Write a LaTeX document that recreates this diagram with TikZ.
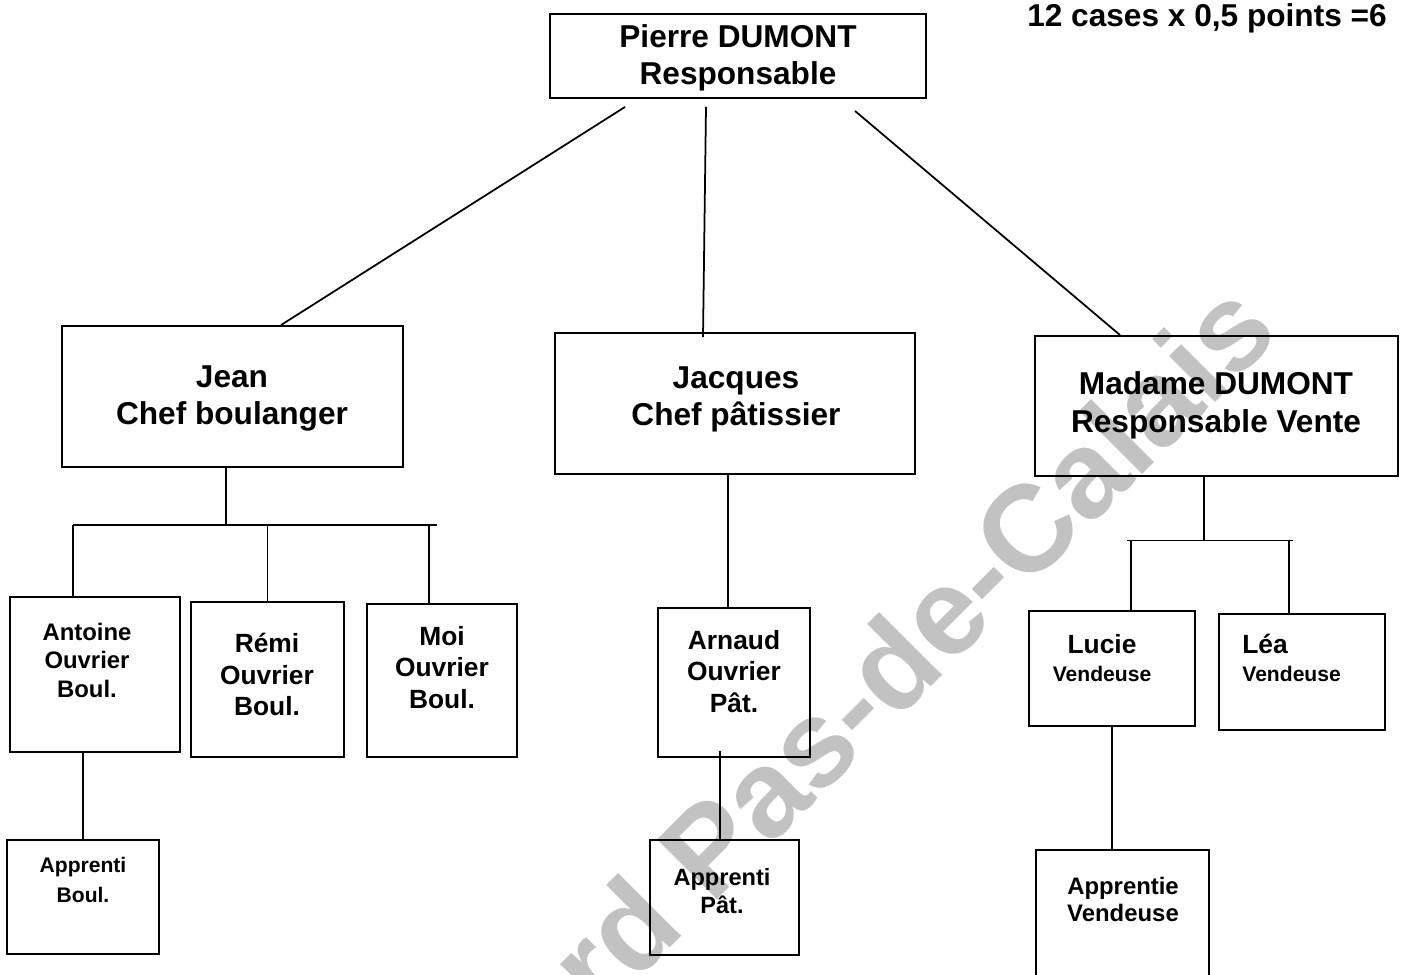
\documentclass[tikz,border=0pt]{standalone}
\usepackage{fontspec}
\setmainfont{Liberation Sans}
\usetikzlibrary{calc}

\tikzset{
  box/.style={draw, line width=1.1pt, inner sep=0pt},
  link/.style={line width=1pt},
  txt/.style={font=\bfseries, align=center, inner sep=0pt},
  bigtxt/.style={txt, font=\bfseries\fontsize{18}{21.3}\selectfont},
  midtxt/.style={txt, font=\bfseries\fontsize{15}{17.9}\selectfont},
}

\begin{document}
\begin{tikzpicture}[x=0.02cm, y=-0.02cm]
	\useasboundingbox (0,0) rectangle (1403,974);
	\clip (0,0) rectangle (1403,974);

	% filigrane
	\node[rotate=45, text=black!24, inner sep=0pt, font=\bfseries\fontsize{70}{70}\selectfont] (filigrane) at (910,645) {rd Pas-de-Calais};

	\node[bigtxt] (bareme) at (1207,18) {12 cases x 0,5 points =6};

	% boites
	\node[box, minimum width=7.52cm, minimum height=1.68cm] (pierre) at (738,56) {};
	\node[box, minimum width=6.82cm, minimum height=2.82cm] (jean) at (232.5,396.5) {};
	\node[box, minimum width=7.2cm, minimum height=2.82cm] (jacques) at (735,403.5) {};
	\node[box, minimum width=7.26cm, minimum height=2.8cm] (madame) at (1216.5,406) {};
	\node[box, minimum width=3.4cm, minimum height=3.1cm] (antoine) at (95,674.5) {};
	\node[box, minimum width=3.06cm, minimum height=3.1cm] (remi) at (267.5,679.5) {};
	\node[box, minimum width=3cm, minimum height=3.06cm] (moi) at (442,680.5) {};
	\node[box, minimum width=3.04cm, minimum height=2.98cm] (arnaud) at (734,682.5) {};
	\node[box, minimum width=3.32cm, minimum height=2.3cm] (lucie) at (1112,668.5) {};
	\node[box, minimum width=3.32cm, minimum height=2.32cm] (lea) at (1302,672) {};
	\node[box, minimum width=3.04cm, minimum height=2.28cm] (appboul) at (83,897) {};
	\node[box, minimum width=2.98cm, minimum height=2.3cm] (apppat) at (724.5,897.5) {};
	\node[box, minimum width=3.46cm, minimum height=3cm] (appvend) at (1122.5,925) {};

	% textes
	\node[bigtxt] (pierre-t) at (738,58) {Pierre DUMONT\\Responsable};
	\node[bigtxt] (jean-t) at (232,398.5) {Jean\\Chef boulanger};
	\node[bigtxt] (jacques-t) at (736,399.5) {Jacques\\Chef pâtissier};
	\node[bigtxt] (madame-t) at (1216,405.5) {Madame DUMONT\\Responsable Vente};
	\node[txt, font=\bfseries\fontsize{13.6}{16.2}\selectfont] (antoine-t) at (87,660) {Antoine\\Ouvrier\\Boul.};
	\node[midtxt] (remi-t) at (267,674.5) {Rémi\\Ouvrier\\Boul.};
	\node[midtxt] (moi-t) at (442,667.5) {Moi\\Ouvrier\\Boul.};
	\node[midtxt] (arnaud-t) at (734,671.5) {Arnaud\\Ouvrier\\Pât.};
	\node[txt, font=\bfseries\fontsize{15}{16}\selectfont] (lucie-t) at (1102,658) {Lucie\\{\fontsize{12}{14}\selectfont Vendeuse}};
	\node[txt, align=left, anchor=west, font=\bfseries\fontsize{15}{16}\selectfont] (lea-t) at (1242,658) {Léa\\{\fontsize{12}{14}\selectfont Vendeuse}};
	\node[txt, font=\bfseries\fontsize{12}{17}\selectfont] (appboul-t) at (83,880) {Apprenti\\Boul.};
	\node[txt, font=\bfseries\fontsize{13.4}{16}\selectfont] (apppat-t) at (722,891) {Apprenti\\Pât.};
	\node[txt, font=\bfseries\fontsize{13.6}{15.4}\selectfont] (appvend-t) at (1123,899.5) {Apprentie\\Vendeuse};

	% liens du responsable
	\draw[link] ([shift={(-113,8)}]pierre.south) -- ([shift={(48.5,0)}]jean.north);
	\draw[link] ([shift={(-32,8)}]pierre.south) -- ([shift={(-32,5)}]jacques.north);
	\draw[link] ([shift={(117,12)}]pierre.south) -- ([shift={(-96.5,0)}]madame.north);

	% boulangerie
	\coordinate (jean-bar) at (226,525);
	\coordinate (jean-barL) at (73,525);
	\coordinate (jean-barR) at (437,525);
	\coordinate (moi-top) at ([shift={(-13,0)}]moi.north);
	\draw[link] (jean.south -| jean-bar) -- (jean-bar);
	\draw[link] (jean-barL) -- (jean-barR);
	\draw[link] (jean-barL) -- (antoine.north -| jean-barL);
	\draw[link] (remi.north |- jean-bar) -- (remi.north);
	\draw[link] (moi-top |- jean-bar) -- (moi-top);
	\draw[link] (antoine.south -| appboul.north) -- (appboul.north);

	% patisserie
	\coordinate (arnaud-top) at ([shift={(-6,0)}]arnaud.north);
	\coordinate (apppat-top) at ([shift={(-4.5,0)}]apppat.north);
	\draw[link] (arnaud-top |- jacques.south) -- (arnaud-top);
	\draw[link] (apppat-top |- arnaud.south) ++(0,-7) -- (apppat-top);

	% vente
	\coordinate (madame-bar) at (1204,540.5);
	\coordinate (madame-barL) at (1127,540.5);
	\coordinate (madame-barR) at (1293,540.5);
	\coordinate (lucie-top) at ([shift={(19,0)}]lucie.north);
	\coordinate (lea-top) at ([shift={(-13,0)}]lea.north);
	\draw[link] (madame.south -| madame-bar) -- (madame-bar);
	\draw[link] (madame-barL) -- (madame-barR);
	\draw[link] (lucie-top |- madame-bar) -- (lucie-top);
	\draw[link] (lea-top |- madame-bar) -- (lea-top);
	\draw[link] (lucie.south) -- (lucie.south |- appvend.north);
\end{tikzpicture}
\end{document}
